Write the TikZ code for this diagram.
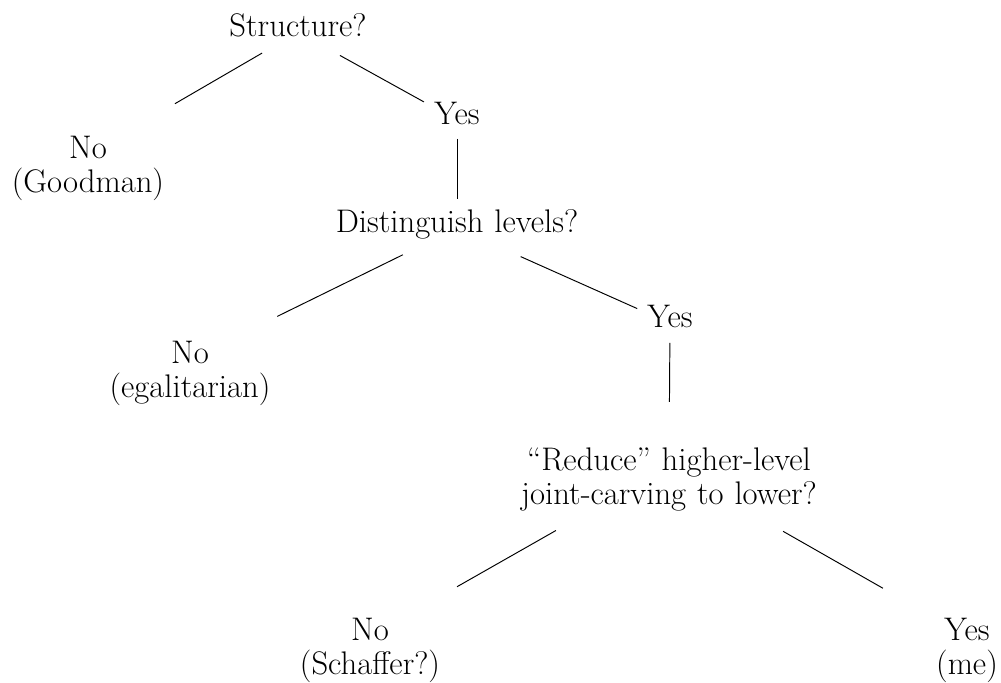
\documentclass[tikz,border=0pt]{standalone}
\usetikzlibrary{calc}

\tikzset{
    answer/.style={align=center, text width=8cm, anchor=base, inner sep=0pt},
    question/.style={align=center, text width=8cm, anchor=base, inner sep=0pt},
}

\begin{document}
\begin{tikzpicture}[x=0.02cm, y=-0.02cm, line width=0.55pt,
    font=\fontsize{18.6}{19.9}\selectfont]
\useasboundingbox (0,0) rectangle (1001,683);

\node[question] (struct) at (298,36) {Structure?};
\node[question] (dist) at (457,232) {Distinguish levels?};
\node[question] (red) at (669,470) {“Reduce” higher-level\\joint-carving to lower?};

\node[answer] (yesA) at (457,124) {Yes};
\node[answer] (good) at (88,158) {No\\(Goodman)};
\node[answer] (yesB) at (670,327) {Yes};
\node[answer] (egal) at (190,363) {No\\(egalitarian)};
\node[answer] (scha) at (370,640) {No\\(Schaffer?)};
\node[answer] (me) at (967,640) {Yes\\(me)};

\foreach \a/\b/\s/\e in {struct/good/.171/.586, struct/yesA/.264/.792, yesA/dist/.172/.728,
    dist/egal/.203/.673, dist/yesB/.299/.846, yesB/red/.137/.55,
    red/scha/.378/.709, red/me/.383/.718}{
    \draw ($(\a.mid)!\s!(\b.mid)$) -- ($(\a.mid)!\e!(\b.mid)$);
}

\end{tikzpicture}
\end{document}
